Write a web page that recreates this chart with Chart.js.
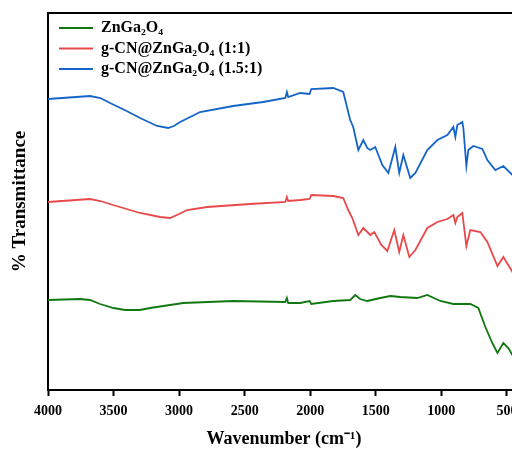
<!DOCTYPE html>
<html>
<head>
<meta charset="utf-8">
<script src="https://cdn.jsdelivr.net/npm/chart.js@4.4.0/dist/chart.umd.min.js"></script>
<style>
  html, body { margin: 0; padding: 0; background: #fff; overflow: hidden; }
  #wrap { width: 540px; height: 450px; position: relative; }
</style>
</head>
<body>
<div id="wrap"><canvas id="ftir"></canvas></div>
<script>
// series labels
const seriesNames = ['ZnGa\u2082O\u2084', 'g-CN@ZnGa\u2082O\u2084 (1:1)', 'g-CN@ZnGa\u2082O\u2084 (1.5:1)'];
const seriesColors = ['#117811', '#e8494b', '#1565c8'];

// ZnGa2O4 (wavenumber, transmittance a.u.)
const znWn = [4000, 3756, 3680, 3603, 3500, 3412, 3300, 3221, 2969, 2588, 2190, 2178, 2168, 2076, 2005, 1992, 1824, 1695, 1656, 1620, 1565, 1466, 1389, 1313, 1183, 1107, 1008, 908, 779, 718, 664, 611, 572, 527, 489, 458, 400];
const znT  = [90, 91, 90, 86, 82, 80, 80, 82, 87, 89, 88, 92, 87, 87, 89, 86, 89, 90, 95, 91, 89, 92, 94, 93, 92, 95, 89, 86, 86, 82, 63, 47, 37, 47, 42, 35, 30];

// g-CN@ZnGa2O4 (1:1)
const cn11Wn = [4000, 3679, 3600, 3504, 3400, 3298, 3145, 3069, 3000, 2939, 2786, 2458, 2190, 2178, 2168, 2076, 2005, 1992, 1824, 1748, 1710, 1679, 1633, 1595, 1542, 1511, 1458, 1412, 1359, 1321, 1290, 1244, 1198, 1107, 1030, 954, 908, 893, 878, 840, 809, 779, 702, 649, 572, 527, 458, 400];
const cn11T  = [188, 191, 189, 185, 181, 177, 173, 172, 176, 180, 183, 186, 188, 193, 189, 190, 191, 195, 194, 192, 180, 172, 155, 162, 155, 158, 145, 139, 160, 138, 155, 133, 140, 162, 168, 171, 175, 167, 173, 177, 144, 160, 158, 148, 124, 133, 118, 112];

// g-CN@ZnGa2O4 (1.5:1)
const cn15Wn = [4000, 3679, 3600, 3527, 3400, 3298, 3168, 3084, 3040, 2992, 2840, 2588, 2359, 2190, 2178, 2168, 2076, 2005, 1992, 1824, 1748, 1695, 1672, 1633, 1595, 1565, 1542, 1504, 1450, 1404, 1351, 1321, 1290, 1237, 1198, 1107, 1030, 954, 908, 893, 878, 840, 832, 809, 794, 756, 687, 649, 588, 527, 458, 400];
const cn15T  = [291, 294, 292, 287, 279, 272, 264, 262, 264, 268, 278, 284, 288, 292, 298, 293, 297, 296, 301, 302, 298, 270, 263, 240, 250, 242, 240, 243, 225, 217, 243, 217, 235, 212, 217, 240, 250, 255, 263, 253, 265, 268, 262, 224, 240, 244, 241, 230, 220, 224, 215, 212];

// x-axis tick values
const xTicks = [4000, 3500, 3000, 2500, 2000, 1500, 1000, 500];

const toPts = (xs, ys) => xs.map((x, i) => ({ x: x, y: ys[i] }));
const seriesX = [znWn, cn11Wn, cn15Wn];
const seriesY = [znT, cn11T, cn15T];

const serif = "'Liberation Serif', 'Times New Roman', serif";

// put the legend inside the frame, top-left
const legendSpot = {
  id: 'legendSpot',
  beforeDraw(chart) {
    chart.legend.left = 54.5;
    chart.legend.top = 15.5;
  }
};

new Chart(document.getElementById('ftir'), {
  type: 'line',
  data: {
    datasets: seriesNames.map((name, i) => ({
      label: name,
      data: toPts(seriesX[i], seriesY[i]),
      borderColor: seriesColors[i],
      backgroundColor: seriesColors[i],
      borderWidth: 1.8,
      pointRadius: 0,
      tension: 0,
      fill: false
    }))
  },
  plugins: [legendSpot],
  options: {
    responsive: true,
    maintainAspectRatio: false,
    animation: false,
    layout: { padding: { left: 0, right: 20, top: 0, bottom: 0 } },
    plugins: {
      legend: {
        position: 'chartArea',
        align: 'start',
        labels: {
          boxWidth: 34,
          boxHeight: 0,
          padding: 4.5,
          color: '#000',
          font: { family: serif, size: 16, weight: 'bold' }
        }
      },
      tooltip: { enabled: false }
    },
    scales: {
      x: {
        type: 'linear',
        reverse: true,
        min: 400,
        max: 4000,
        afterBuildTicks: s => { s.ticks = xTicks.map(v => ({ value: v })); },
        afterFit: s => { s.height = 60; },
        grid: { display: true, drawOnChartArea: false, drawTicks: true, tickLength: 6, tickColor: '#000', tickWidth: 2 },
        border: { display: true, color: '#000', width: 2 },
        ticks: {
          color: '#000', padding: 7, maxRotation: 0,
          callback: v => String(v),
          font: { family: serif, size: 14, weight: 'bold' }
        },
        title: {
          display: true,
          text: 'Wavenumber (cm\u207B\u00B9)',
          color: '#000',
          padding: { top: 6, bottom: 0 },
          font: { family: serif, size: 18, weight: 'bold' }
        }
      },
      xTop: {
        type: 'linear',
        position: 'top',
        reverse: true,
        min: 400,
        max: 4000,
        afterFit: s => { s.height = 13; },
        grid: { display: false, drawTicks: false },
        border: { display: true, color: '#000', width: 2 },
        ticks: { display: false }
      },
      y: {
        min: 0,
        max: 377,
        afterFit: s => { s.width = 48; },
        grid: { display: false, drawTicks: false },
        border: { display: true, color: '#000', width: 2 },
        ticks: { display: false },
        title: {
          display: true,
          text: '% Transmittance',
          color: '#000',
          padding: { top: 9, bottom: 0 },
          font: { family: serif, size: 19, weight: 'bold' }
        }
      }
    }
  }
});
</script>
</body>
</html>
